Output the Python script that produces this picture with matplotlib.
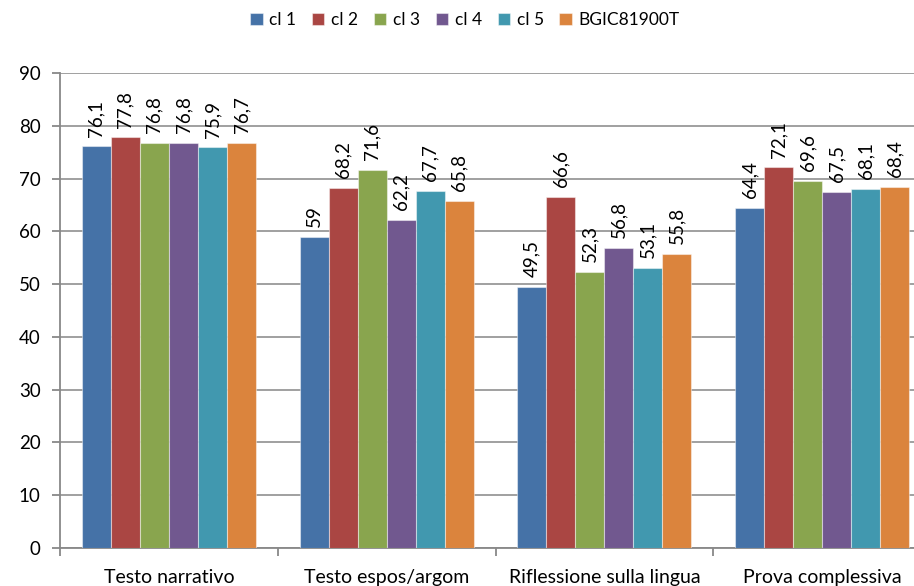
import matplotlib
matplotlib.use("Agg")
import matplotlib.pyplot as plt
import numpy as np

categories = ["Testo narrativo", "Testo espos/argom", "Riflessione sulla lingua", "Prova complessiva"]
series_names = ["cl 1", "cl 2", "cl 3", "cl 4", "cl 5", "BGIC81900T"]
cl1 = [76.1, 59.0, 49.5, 64.4]
cl2 = [77.8, 68.2, 66.6, 72.1]
cl3 = [76.8, 71.6, 52.3, 69.6]
cl4 = [76.8, 62.2, 56.8, 67.5]
cl5 = [75.9, 67.7, 53.1, 68.1]
bgic = [76.7, 65.8, 55.8, 68.4]
values = [cl1, cl2, cl3, cl4, cl5, bgic]
colors = ["#4572A7", "#AA4643", "#89A54E", "#71588F", "#4198AF", "#DB843D"]

plt.rcParams['font.family'] = ['Lato', 'DejaVu Sans']

W, H = 914, 586
fig = plt.figure(figsize=(W / 100, H / 100), dpi=100)
left, right = 60, 931
bottom, top = 548, 73
ax = fig.add_axes([left / W, 1 - bottom / H, (right - left) / W, (bottom - top) / H])

n = len(series_names)
bw = 0.8 / n
x = np.arange(len(categories))
handles = []
for i, (name, vals, c) in enumerate(zip(series_names, values, colors)):
    pos = x - 0.4 + bw * (i + 0.5)
    b = ax.bar(pos, vals, width=bw, color=c, edgecolor=(1, 1, 1, 0.45), linewidth=0.8, label=name, zorder=3)
    handles.append(b)
    for p, v in zip(pos, vals):
        lab = f"{v:g}".replace(".", ",")
        ax.annotate(lab, (p, v), xytext=(0, 7), textcoords="offset points",
                    rotation=90, ha="center", va="bottom", fontsize=13.5, color="#000000")

ax.set_xlim(-0.5, len(categories) - 0.5)
ax.set_ylim(0, 90)
ax.set_yticks(np.arange(0, 91, 10))
ax.yaxis.grid(True, color="#999999", linewidth=1.3, zorder=0)
ax.set_axisbelow(True)
ax.set_xticks(np.arange(len(categories) + 1) - 0.5)
ax.set_xticklabels([])
ax.set_xticks(x, minor=True)
ax.set_xticklabels(categories, minor=True, fontsize=14)
ax.tick_params(axis="x", which="minor", length=0, pad=15)
ax.tick_params(axis="x", which="major", length=6, width=1.3, color="#888888", direction="out")
ax.tick_params(axis="y", length=6, width=1.3, color="#888888", labelsize=13.5, pad=8)
for s in ["top", "right"]:
    ax.spines[s].set_visible(False)
for s in ["left", "bottom"]:
    ax.spines[s].set_color("#888888")
    ax.spines[s].set_linewidth(1.3)

fig.legend(handles=handles, labels=series_names, loc="center", bbox_to_anchor=(465 / W, 1 - 20 / H),
           ncol=n, frameon=False, fontsize=12.5, handlelength=0.7, handleheight=0.7,
           handletextpad=0.4, columnspacing=0.9)

fig.savefig("out.png", dpi=100)
